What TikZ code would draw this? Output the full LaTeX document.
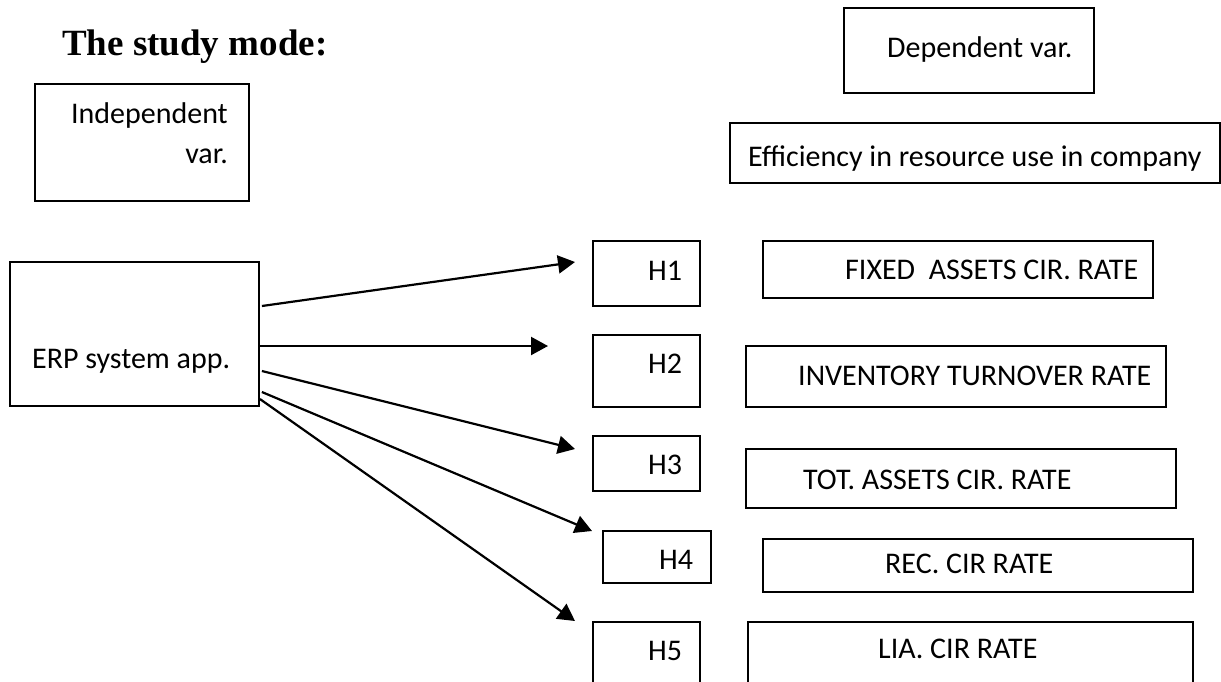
\documentclass[tikz,border=0pt]{standalone}
\usepackage{fontspec}
\setmainfont{Carlito}
\newfontfamily\titlefont{Liberation Serif}
\usetikzlibrary{arrows.meta}
\begin{document}
\begin{tikzpicture}[x=1pt,y=-1pt,
  box/.style={draw=black, line width=1.8pt, inner sep=0pt, fill=none},
  lbl/.style={inner sep=0pt, font=\fontsize{30}{36}\selectfont},
  arr/.style={draw=black, line width=2.2pt, -{Triangle[length=17pt,width=18pt]}}]
\useasboundingbox (0,0) rectangle (1221,681);
\clip (0,0) rectangle (1221,681);
% title
\node[inner sep=0pt, anchor=base west, font=\titlefont\bfseries\fontsize{37}{44}\selectfont] (title) at (62,55) {The study mode:};
% independent
\node[box, minimum width=214pt, minimum height=117pt] (indep) at (142,142.5) {};
\node[lbl, anchor=base east] (indepA) at (228,123) {Independent};
\node[lbl, anchor=base east] (indepB) at (228,163) {var.};
% dependent
\node[box, minimum width=250pt, minimum height=85pt] (dep) at (969,50.5) {};
\node[lbl, anchor=base west] (depT) at (887,57) {Dependent var.};
\node[box, minimum width=490pt, minimum height=60pt] (eff) at (975,153) {};
\node[lbl, anchor=base west] (effT) at (748,166) {Efficiency in resource use in company};
% ERP
\node[box, minimum width=249pt, minimum height=144pt] (erp) at (134.5,334) {};
\node[lbl, anchor=base west] (erpT) at (32,368) {ERP system app.};
% H boxes
\node[box, minimum width=107pt, minimum height=65pt] (h1) at (646.5,273.5) {};
\node[lbl, anchor=base west] (h1T) at (648,280) {H1};
\node[box, minimum width=107pt, minimum height=72pt] (h2) at (646.5,371) {};
\node[lbl, anchor=base west] (h2T) at (648,373) {H2};
\node[box, minimum width=107pt, minimum height=55pt] (h3) at (646.5,463.5) {};
\node[lbl, anchor=base west] (h3T) at (648,474) {H3};
\node[box, minimum width=108pt, minimum height=52pt] (h4) at (657,557) {};
\node[lbl, anchor=base west] (h4T) at (659,569) {H4};
\node[box, minimum width=107pt, minimum height=78pt] (h5) at (646.5,661) {};
\node[lbl, anchor=base west] (h5T) at (648,660) {H5};
% right boxes
\node[box, minimum width=390pt, minimum height=57pt] (fixed) at (958,269.5) {};
\node[lbl, anchor=base west] (fixedT) at (845,279) {FIXED\ \ ASSETS CIR. RATE};
\node[box, minimum width=420pt, minimum height=61pt] (inv) at (956,376.5) {};
\node[lbl, anchor=base west] (invT) at (798,385) {INVENTORY TURNOVER RATE};
\node[box, minimum width=430pt, minimum height=59pt] (tot) at (961,478.5) {};
\node[lbl, anchor=base west] (totT) at (803,489) {TOT. ASSETS CIR. RATE};
\node[box, minimum width=430pt, minimum height=53pt] (rec) at (978,565.5) {};
\node[lbl, anchor=base west] (recT) at (885,573) {REC. CIR RATE};
\node[box, minimum width=445pt, minimum height=78pt] (lia) at (970.5,661) {};
\node[lbl, anchor=base west] (liaT) at (878,658) {LIA. CIR RATE};
% arrow tips
\coordinate (t1) at (575,262);
\coordinate (t2) at (548,346);
\coordinate (t3) at (575,449);
\coordinate (t4) at (592,531);
\coordinate (t5) at (575,621);
\draw[arr] ([xshift=2pt,yshift=28pt]erp.east) -- (t1);
\draw[arr] ([yshift=-12pt]erp.east) -- (t2);
\draw[arr] ([xshift=2pt,yshift=-37pt]erp.east) -- (t3);
\draw[arr] ([xshift=2pt,yshift=-58pt]erp.east) -- (t4);
\draw[arr] ([yshift=-65pt]erp.east) -- (t5);
\end{tikzpicture}
\end{document}
